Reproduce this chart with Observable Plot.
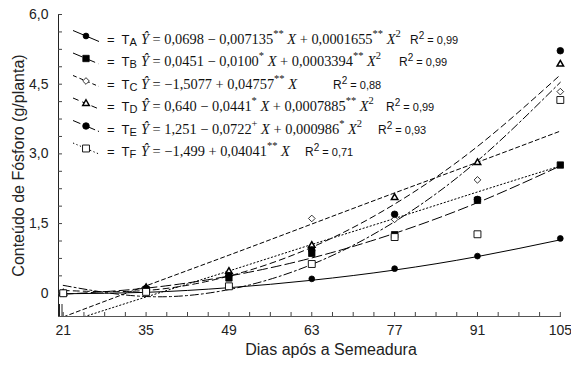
<!DOCTYPE html>
<html><head><meta charset="utf-8">
<script src="https://cdn.jsdelivr.net/npm/d3@7"></script>
<script src="https://cdn.jsdelivr.net/npm/@observablehq/plot@0.6"></script>
<style>body{margin:0;background:#fff}</style>
</head><body><div id="chart"></div>
<script>
const days = [21, 35, 49, 63, 77, 91, 105];
const seriesNames = ["TA", "TB", "TC", "TD", "TE", "TF"];
// observed
const obsA = [0.00, 0.05, 0.15, 0.31, 0.53, 0.80, 1.18];
const obsB = [0.00, 0.08, 0.33, 0.86, 1.26, 2.00, 2.76];
const obsC = [0.00, 0.10, 0.42, 1.61, 1.59, 2.44, 4.34];
const obsD = [0.00, 0.12, 0.47, 1.03, 2.06, 2.81, 4.93];
const obsE = [0.00, 0.10, 0.38, 0.93, 1.70, 2.02, 5.22];
const obsF = [0.00, 0.03, 0.15, 0.63, 1.21, 1.27, 4.16];
// fitted curve values read at each day
const fitA = [-0.01, 0.02, 0.12, 0.28, 0.50, 0.79, 1.15];
const fitB = [-0.02, 0.11, 0.37, 0.76, 1.29, 1.95, 2.74];
const fitC = [-0.51, 0.16, 0.82, 1.49, 2.16, 2.82, 3.49];
const fitD = [0.06, 0.06, 0.37, 0.99, 1.92, 3.16, 4.70];
const fitE = [0.17, -0.07, 0.08, 0.62, 1.54, 2.85, 4.54];
const fitF = [-0.65, -0.08, 0.48, 1.05, 1.61, 2.18, 2.74];
const xTicks = [21, 35, 49, 63, 77, 91, 105];
const yTicks = [0, 1.5, 3, 4.5, 6];
const yTickLabels = ["0", "1,5", "3,0", "4,5", "6,0"];
const xLabel = "Dias após a Semeadura";
const yLabel = "Conteúdo de Fósforo (g/planta)";
const subs = ["A", "B", "C", "D", "E", "F"];
const r2Labels = ["0,99", "0,99", "0,88", "0,99", "0,93", "0,71"];
const equations = [
  [["Ŷ","i"],[" = 0,0698 − 0,007135","n"],["**","s"],[" X","i"],[" + 0,0001655","n"],["**","s"],[" X","i"],["2","s2"]],
  [["Ŷ","i"],[" = 0,0451 − 0,0100","n"],["*","s"],[" X","i"],[" + 0,0003394","n"],["**","s"],[" X","i"],["2","s2"]],
  [["Ŷ","i"],[" = −1,5077 + 0,04757","n"],["**","s"],[" X","i"]],
  [["Ŷ","i"],[" = 0,640 − 0,0441","n"],["*","s"],[" X","i"],[" + 0,0007885","n"],["**","s"],[" X","i"],["2","s2"]],
  [["Ŷ","i"],[" = 1,251 − 0,0722","n"],["+","s"],[" X","i"],[" + 0,000986","n"],["*","s"],[" X","i"],["2","s2"]],
  [["Ŷ","i"],[" = −1,499 + 0,04041","n"],["**","s"],[" X","i"]]
];

const obsAll = [obsA, obsB, obsC, obsD, obsE, obsF];
const fitAll = [fitA, fitB, fitC, fitD, fitE, fitF];
const dashes = [null, "10,4", "4,3", "6,4", "8,3,2,3", "1.3,2.4"];
const symbols = ["circle", "square", "diamond2", "triangle2", "circle", "square"];
const fills = ["black", "black", "white", "white", "black", "white"];
const radii = [2.9, 3.6, 3.0, 3.1, 3.3, 3.9];
const strokeW = [0.8, 0.8, 0.8, 1.5, 0.8, 0.9];

const obsRows = [], fitRows = [];
seriesNames.forEach((s, i) => {
  days.forEach((d, j) => {
    obsRows.push({s, i, day: d, v: obsAll[i][j]});
    fitRows.push({s, i, day: d, v: fitAll[i][j]});
  });
});
const minorX = d3.range(21, 105.01, 3.5);
const minorY = d3.range(0, 6.001, 0.375);

const marks = [];
seriesNames.forEach((s, i) => {
  marks.push(Plot.line(fitRows.filter(r => r.i === i), {x: "day", y: "v", curve: "natural", stroke: "black", strokeWidth: 1, strokeDasharray: dashes[i], clip: true}));
});
seriesNames.forEach((s, i) => {
  marks.push(Plot.dot(obsRows.filter(r => r.i === i), {x: "day", y: "v", symbol: () => symbols[i], r: radii[i], fill: fills[i], stroke: "black", strokeWidth: strokeW[i]}));
});

const plot = Plot.plot({
  width: 571, height: 365,
  marginTop: 14, marginBottom: 49, marginLeft: 58, marginRight: 10,
  style: {fontFamily: "'Liberation Sans', Arial, sans-serif", fontSize: "14px", background: "white", color: "#222", overflow: "visible"},
  x: {domain: [20.2, 105.2]},
  y: {domain: [-0.5, 6]},
  symbol: {type: "identity"},
  marks: [
    Plot.ruleY([-0.5], {stroke: "#555", strokeWidth: 1.2}),
    Plot.ruleX([20.2], {stroke: "#222", strokeWidth: 1}),
    Plot.axisX({ticks: minorX, tickSize: 4, dy: -4, tickFormat: () => "", label: null, stroke: "#444"}),
    Plot.axisY({ticks: minorY, tickSize: 4, dx: 4, tickFormat: () => "", label: null, stroke: "#444"}),
    Plot.axisX({ticks: xTicks, tickSize: 0, tickPadding: 9, tickFormat: d => String(d), fontSize: 14, label: null}),
    Plot.axisY({ticks: yTicks, tickSize: 0, tickPadding: 10, tickFormat: (d, k) => yTickLabels[k], fontSize: 14, label: null}),
    Plot.text([xLabel], {text: d => d, frameAnchor: "bottom", dy: 38, dx: 21, fontSize: 16, fill: "#222"}),
    Plot.text([yLabel], {text: d => d, frameAnchor: "left", textAnchor: "middle", rotate: -90, dx: -40, fontSize: 16, fill: "#222"}),
    ...marks
  ]
});
document.getElementById("chart").appendChild(plot);

// legend drawn into the svg
const svg = d3.select(plot.tagName.toLowerCase() === "svg" ? plot : plot.querySelector("svg"));
const lg = svg.append("g").attr("text-anchor", "start").attr("fill", "#111");
const r2x = [410, 399, 333, 386, 378, 305];
const symMap = {circle: d3.symbolCircle, square: d3.symbolSquare, diamond2: d3.symbolDiamond2, triangle2: d3.symbolTriangle2};
seriesNames.forEach((s, i) => {
  const cy = 38.5 + i * 22.5;
  lg.append("line").attr("x1", 73).attr("y1", cy - 8).attr("x2", 99).attr("y2", cy + 3)
    .attr("stroke", "black").attr("stroke-width", 1).attr("stroke-dasharray", dashes[i]);
  lg.append("path").attr("transform", `translate(86,${cy - 2.5})`)
    .attr("d", d3.symbol(symMap[symbols[i]], Math.PI * radii[i] * radii[i])())
    .attr("fill", fills[i]).attr("stroke", "black").attr("stroke-width", strokeW[i]);
  const t = lg.append("text").attr("x", 107).attr("y", cy + 5)
    .attr("font-family", "'Liberation Sans', Arial, sans-serif").attr("font-size", 13).style("white-space", "pre");
  t.append("tspan").text("=  T");
  t.append("tspan").attr("font-size", 11).attr("dy", 2).text(subs[i]);
  const e = lg.append("text").attr("x", 141).attr("y", cy + 5)
    .attr("font-family", "'Liberation Serif', 'Times New Roman', serif").attr("font-size", 14.4).style("white-space", "pre");
  let shift = 0;
  equations[i].forEach(([txt, st]) => {
    const sp = e.append("tspan").text(txt);
    if (st === "i") sp.attr("font-style", "italic");
    if (st === "s" || st === "s2") {
      sp.attr("font-size", 10.5).attr("dy", -7 - shift); shift = -7;
    } else if (shift !== 0) { sp.attr("dy", 7); shift = 0; }
  });
  const r = lg.append("text").attr("x", r2x[i]).attr("y", cy + 5)
    .attr("font-family", "'Liberation Sans', Arial, sans-serif").attr("font-size", 12).style("white-space", "pre");
  r.append("tspan").text("R");
  r.append("tspan").attr("font-size", 10).attr("dy", -5).text("2");
  r.append("tspan").attr("dy", 5).attr("font-size", 11).text(" = " + r2Labels[i]);
});
// axis break marks
lg.append("line").attr("x1", 59.5).attr("x2", 59.5).attr("y1", 304).attr("y2", 316).attr("stroke", "#222");
lg.append("line").attr("x1", 62).attr("x2", 62).attr("y1", 304).attr("y2", 316).attr("stroke", "#222");
</script></body></html>
